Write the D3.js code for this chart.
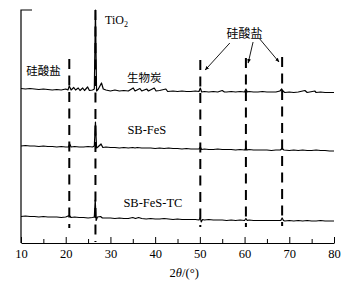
<!DOCTYPE html>
<html>
<head>
<meta charset="utf-8">
<script src="https://cdn.jsdelivr.net/npm/d3@7"></script>
<style>
  body { margin: 0; background: #fff; }
  text { font-family: 'Liberation Serif', 'Times New Roman', serif; fill: #000; }
  .cjk { font-family: 'Noto Sans CJK SC', sans-serif; }
</style>
</head>
<body>
<div id="chart"></div>
<script>
// XRD patterns, 2θ vs intensity (arbitrary units), stacked with offsets
const seriesNames = ['生物炭', 'SB-FeS', 'SB-FeS-TC']
const seriesOffsets = [150, 92, 22]

const biochar = [
  [10, 4.5], [11, 4], [12, 4.5], [13, 4], [14, 3.5], [15, 4], [16, 3.5], [17, 3], [18, 3.5], [19, 3],
  [20, 4], [20.5, 3], [20.8, 7], [21.2, 3], [21.8, 5.5], [22.2, 3], [22.8, 5], [23.2, 2.5], [23.8, 5],
  [24.2, 2.5], [24.9, 6], [25.3, 2.5], [26, 3], [26.4, 4], [26.65, 83], [26.9, 2], [27.3, 4], [28, 10],
  [28.4, 4], [29, 3], [30, 2], [31, 3], [32, 2], [33, 2.5], [34, 2], [35.1, 5], [35.5, 2], [36.6, 4.5],
  [37, 2], [38.1, 4], [38.5, 2], [39.8, 5], [40.2, 2], [41, 2.5], [42.4, 4], [42.8, 1.5], [44, 2],
  [45, 1.5], [46, 2], [47, 1.5], [48, 1.5], [49, 2], [49.8, 1.5], [50.1, 5], [50.4, 1], [51, 1.5],
  [52, 1], [53, 1.5], [54, 1], [55, 2.5], [55.5, 1], [56, 1], [57, 1.5], [58, 1], [59, 1.5], [60, 1],
  [60.3, 4], [60.6, 1], [61, 1.5], [62, 1], [63, 1], [64, 1.5], [65, 1], [66, 1], [67, 1], [67.9, 2],
  [68.3, 4], [68.7, 1.5], [69, 0.5], [70, 1], [71, 0.5], [72, 1], [73.5, 2.5], [74, 0.5], [75.7, 2],
  [76, 0.5], [77, 1], [78, 0.5], [79, 0.5], [80, 0.5]
]

const sbFeS = [
  [10, 5], [11, 5.5], [12, 5], [13, 5], [14, 4.5], [15, 5], [16, 4.5], [17, 4.5], [18, 4], [19, 4.5],
  [20, 4], [20.6, 4], [20.9, 7], [21.2, 4], [22, 4.5], [23, 4], [24, 4], [25, 4.5], [26, 4], [26.4, 5],
  [26.65, 29], [26.9, 3], [27.2, 4], [27.9, 7], [28.3, 3.5], [29, 4], [30, 3.5], [31, 3.5], [32, 3],
  [33, 3.5], [34, 3], [35, 3.5], [35.5, 3], [36, 3.5], [37, 3], [38, 3], [39, 3], [40, 2.5], [41, 3],
  [42, 2.5], [43, 3], [44, 2.5], [45, 2.5], [46, 2], [47, 2.5], [48, 2], [49, 2], [49.8, 2], [50.1, 4],
  [50.4, 1.5], [51, 2], [52, 1.5], [53, 1.5], [54, 2], [55, 1.5], [56, 1.5], [57, 1.5], [58, 1],
  [59, 1.5], [60, 1], [60.3, 3], [60.6, 1], [61, 1.5], [62, 1], [63, 1], [64, 1], [65, 1], [66, 0.5],
  [67, 1], [68, 1], [68.4, 2.5], [68.8, 1], [70, 0.5], [71, 1], [72, 0.5], [73, 1], [74, 0.5], [75, 0.5],
  [76, 1], [77, 0.5], [78, 0.5], [79, 0], [80, 0]
]

const sbFeSTC = [
  [10, 4.5], [11, 5], [12, 4.5], [13, 4.5], [14, 4], [15, 4.5], [16, 4], [17, 4], [18, 4], [19, 3.5],
  [20, 4], [20.8, 5.5], [21.2, 3.5], [22, 4], [23, 3.5], [24, 3.5], [25, 3], [26, 3.5], [26.4, 4],
  [26.6, 21], [26.8, 0.5], [27.1, 4], [27.8, 4.5], [28.2, 3], [29, 3], [30, 3], [31, 2.5], [32, 3],
  [33, 2.5], [34, 2.5], [35, 3.5], [35.6, 2.5], [36.3, 3.5], [37, 2.5], [38, 2], [39, 2.5], [40, 2],
  [41, 2], [42, 2.5], [43, 2], [44, 1.5], [45, 2], [46, 1.5], [47, 1.5], [48, 1.5], [49, 1.5], [49.8, 1],
  [50.1, 3.5], [50.3, -1], [50.6, 1.5], [51, 1], [52, 1.5], [53, 1], [54, 1], [55, 1], [56, 0.5], [57, 1],
  [58, 0.5], [59, 1], [60, 0.5], [60.3, 2.5], [60.6, 0.5], [61, 1], [62, 0.5], [63, 0.5], [64, 0.5],
  [65, 0.5], [66, 0.5], [67, 0.5], [68.1, 0.5], [68.4, 3], [68.7, 0.5], [69, 0], [70, 0.5], [71, 0],
  [72, 0.5], [73, 0], [74, 0.5], [75, 0], [76, 0], [77, 0.5], [78, 0], [79, 0], [80, 0]
]

// reference peak positions (dashed markers) and their vertical span in intensity units
const markerAngles = [20.8, 26.65, 50.1, 60.3, 68.4]
const markerTop = [184, 233, 183, 185, 186]
const markerBottom = [15, 1, 16, 16, 17]

// arrows from the right-hand silicate label to its markers: [2θ, intensity]
const arrowFrom = [[56.7, 200], [61.9, 201], [63.4, 204]]
const arrowTo = [[51.2, 173], [60.8, 180], [67.7, 181]]

const majorTicks = [10, 20, 30, 40, 50, 60, 70, 80]
const minorTicks = [15, 25, 35, 45, 55, 65, 75]

const width = 363
const height = 285
const margin = { top: 10, right: 29, bottom: 42, left: 21 }

const svg = d3.select('#chart')
  .append('svg')
  .attr('width', width)
  .attr('height', height)

const x = d3.scaleLinear().domain([10, 80]).range([margin.left, width - margin.right])
const y = d3.scaleLinear().domain([0, 233]).range([height - margin.bottom, margin.top])

const allSeries = [biochar, sbFeS, sbFeSTC]

const line = d3.line()
  .x(d => x(d[0]))
  .y(d => y(d[1]))

allSeries.forEach((s, i) => {
  svg.append('path')
    .datum(s.map(d => [d[0], d[1] + seriesOffsets[i]]))
    .attr('fill', 'none')
    .attr('stroke', '#000')
    .attr('stroke-width', 1.2)
    .attr('stroke-linejoin', 'round')
    .attr('d', line)
})

// dashed marker lines
svg.selectAll('.marker')
  .data(markerAngles)
  .enter()
  .append('line')
  .attr('class', 'marker')
  .attr('x1', d => x(d))
  .attr('x2', d => x(d))
  .attr('y1', (d, i) => y(markerTop[i]))
  .attr('y2', (d, i) => y(markerBottom[i]))
  .attr('stroke', '#000')
  .attr('stroke-width', 2)
  .attr('stroke-dasharray', '10,6.5')

// bottom axis with inward ticks
const xAxis = svg.append('g')
  .attr('transform', 'translate(0,' + y(0) + ')')
  .call(d3.axisBottom(x).tickValues(majorTicks).tickSizeInner(-6).tickSizeOuter(0).tickPadding(6.5))
xAxis.select('.domain').attr('stroke-width', 1.2)
xAxis.selectAll('text').attr('font-size', 12.5)
xAxis.selectAll('.tick line').attr('stroke-width', 1)

svg.append('g')
  .attr('transform', 'translate(0,' + y(0) + ')')
  .call(d3.axisBottom(x).tickValues(minorTicks).tickSizeInner(-4).tickSizeOuter(0).tickFormat(''))
  .call(g => g.select('.domain').remove())

// left axis line with a short cap at the top
svg.append('path')
  .attr('d', 'M' + (margin.left + 11) + ',' + y(233) + 'H' + margin.left + 'V' + y(0))
  .attr('fill', 'none')
  .attr('stroke', '#000')
  .attr('stroke-width', 1.2)

// axis title
const xt = svg.append('text')
  .attr('x', x(46.5))
  .attr('y', 277)
  .attr('text-anchor', 'middle')
  .attr('font-size', 12.5)
xt.append('tspan').text('2')
xt.append('tspan').attr('font-style', 'italic').text('θ')
xt.append('tspan').text('/(°)')

// series labels
svg.append('text').attr('class', 'cjk').attr('x', x(33.7)).attr('y', 82).attr('font-size', 11.5).text(seriesNames[0])
svg.append('text').attr('x', x(33.8)).attr('y', 134).attr('font-size', 12.5).text(seriesNames[1])
svg.append('text').attr('x', x(32.9)).attr('y', 207).attr('font-size', 12.5).text(seriesNames[2])

// TiO2 label
const ti = svg.append('text').attr('x', x(28.8)).attr('y', 24).attr('font-size', 12)
ti.append('tspan').text('TiO')
ti.append('tspan').attr('font-size', 8).attr('dy', 3).text('2')

// silicate labels
svg.append('text').attr('class', 'cjk').attr('x', x(11.2)).attr('y', 75).attr('font-size', 11.5).text('硅酸盐')
svg.append('text').attr('class', 'cjk').attr('x', x(60)).attr('y', 38).attr('font-size', 12).attr('text-anchor', 'middle').text('硅酸盐')

// arrowhead
svg.append('defs').append('marker')
  .attr('id', 'arrow')
  .attr('viewBox', '0 0 10 10')
  .attr('refX', 9)
  .attr('refY', 5)
  .attr('markerWidth', 5)
  .attr('markerHeight', 5)
  .attr('orient', 'auto')
  .append('path')
  .attr('d', 'M0,1L10,5L0,9Z')
  .attr('fill', '#000')

svg.selectAll('.arrow')
  .data(arrowFrom)
  .enter()
  .append('line')
  .attr('class', 'arrow')
  .attr('x1', d => x(d[0]))
  .attr('y1', d => y(d[1]))
  .attr('x2', (d, i) => x(arrowTo[i][0]))
  .attr('y2', (d, i) => y(arrowTo[i][1]))
  .attr('stroke', '#000')
  .attr('stroke-width', 0.9)
  .attr('marker-end', 'url(#arrow)')
</script>
</body>
</html>
